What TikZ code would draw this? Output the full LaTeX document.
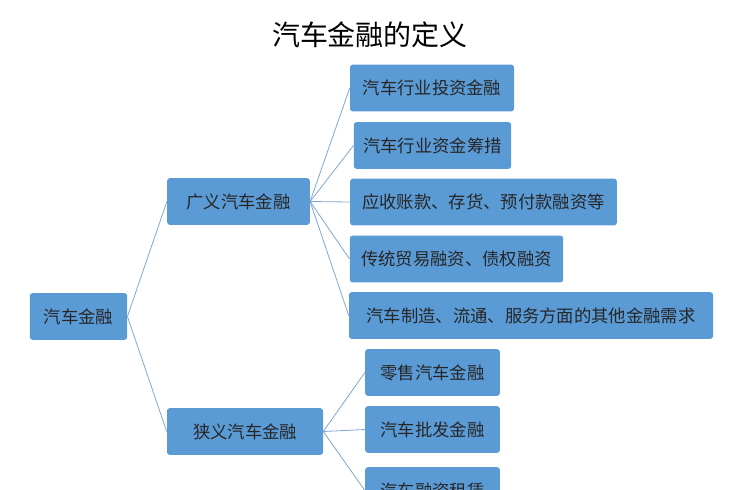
\documentclass[tikz,border=0pt]{standalone}
\usepackage{fontspec}
\setmainfont{Noto Sans CJK SC}
\definecolor{boxblue}{HTML}{5B9BD5}
\definecolor{linkblue}{HTML}{7FA7D3}
\tikzset{
  box/.style={fill=boxblue, rounded corners=2pt, inner sep=0pt, minimum height=35pt, font=\fontsize{13}{15}\selectfont, text=black!85},
  link/.style={draw=linkblue, line width=0.6pt}
}
\begin{document}
\begin{tikzpicture}[x=0.75pt, y=-0.75pt]

    % frame
    \useasboundingbox (0,0) rectangle (744,490);
    \clip (0,0) rectangle (744,490);

    % title
    \node (title) at (370,35) {\fontsize{21}{24}\selectfont 汽车金融的定义};

    % root and branches
    \node [box, minimum width=73pt] (root) at (78.5,316.5) {汽车金融};
    \node [box, minimum width=107pt] (broad) at (238.5,201.5) {广义汽车金融};
    \node [box, minimum width=117pt] (narrow) at (245,431.5) {狭义汽车金融};

    % leaves of broad
    \node [box, minimum width=123pt] (b1) at (432,88) {汽车行业投资金融};
    \node [box, minimum width=118pt] (b2) at (432.5,145.5) {汽车行业资金筹措};
    \node [box, minimum width=200pt] (b3) at (483.5,202) {应收账款、存货、预付款融资等};
    \node [box, minimum width=160pt] (b4) at (456.5,259) {传统贸易融资、债权融资};
    \node [box, minimum width=273pt] (b5) at (531,315.5) {汽车制造、流通、服务方面的其他金融需求};

    % leaves of narrow
    \node [box, minimum width=101pt] (n1) at (432.5,372.5) {零售汽车金融};
    \node [box, minimum width=101pt] (n2) at (432.5,429.5) {汽车批发金融};
    \node [box, minimum width=101pt] (n3) at (432.5,490.5) {汽车融资租赁};

    % connectors
    \draw [link] (root.east) -- (broad.west);
    \draw [link] (root.east) -- (narrow.west);
    \foreach \leaf in {b1,b2,b3,b4,b5}
        \draw [link] (broad.east) -- (\leaf.west);
    \foreach \leaf in {n1,n2,n3}
        \draw [link] (narrow.east) -- (\leaf.west);

\end{tikzpicture}
\end{document}
